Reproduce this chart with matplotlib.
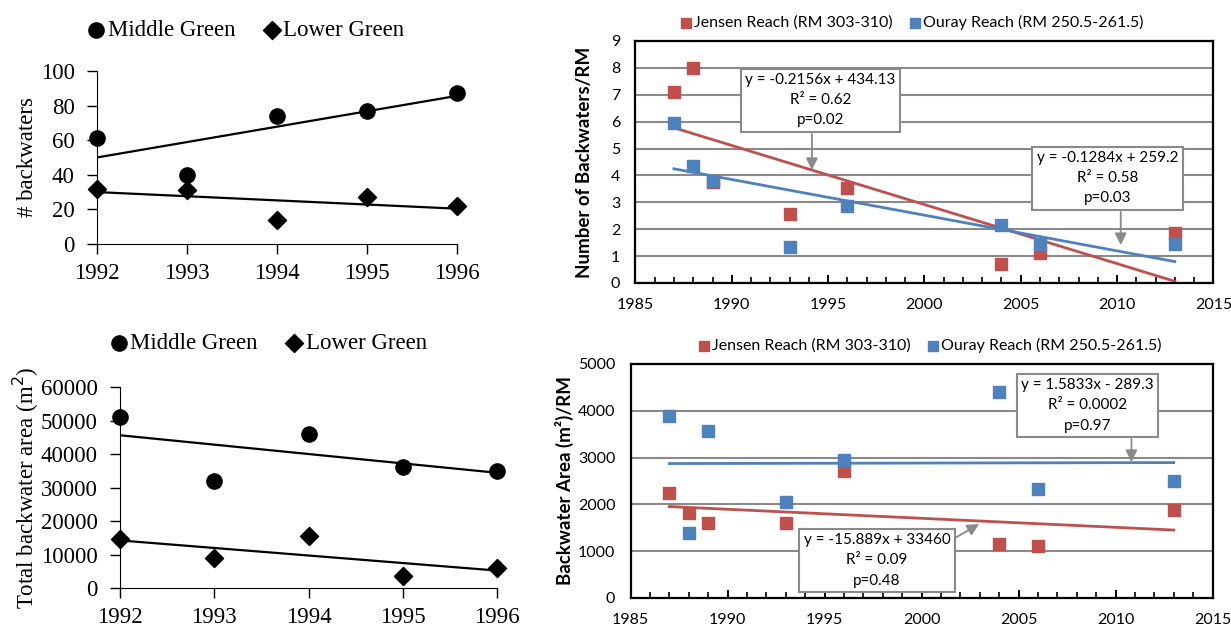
import numpy as np
import matplotlib.pyplot as plt

# left panels: 1992-1996, Middle Green vs Lower Green
years = [1992, 1993, 1994, 1995, 1996]
mid_count = [61, 40, 74, 77, 87]
low_count = [32, 31, 14, 27, 22]
mid_area = [51000, 32000, 46000, 36000, 35000]
low_area = [14500, 9000, 15500, 3500, 6000]

# right panels: Jensen vs Ouray reach
reach_years = [1987, 1988, 1989, 1993, 1996, 2004, 2006, 2013]
jensen_count = [7.1, 8.0, 3.75, 2.55, 3.55, 0.7, 1.1, 1.85]
ouray_count = [5.95, 4.35, 3.8, 1.35, 2.85, 2.15, 1.45, 1.45]
jensen_area = [2240, 1810, 1595, 1595, 2715, 1145, 1105, 1880]
ouray_area = [3895, 1380, 3560, 2050, 2950, 4400, 2320, 2490]

RED = "#C0504D"
BLUE = "#4F81BD"
GREY = "#8a8a8a"
SERIF = "Liberation Serif"
SANS = ["Lato", "DejaVu Sans"]


def trend(x, y):
    k, b = np.polyfit(x, y, 1)
    x = np.array([min(x), max(x)], dtype=float)
    return x, k * x + b


def left_panel(ax, mid, low, ylim, yticks, ylabel, labelpad, leg_x):
    ax.scatter(years, mid, s=120, marker="o", color="black", zorder=3,
               clip_on=False, label="Middle Green")
    ax.scatter(years, low, s=85, marker="D", color="black", zorder=3,
               clip_on=False, label="Lower Green")
    for s in (mid, low):
        ax.plot(*trend(years, s), color="black", lw=1.6)
    ax.set_xlim(1992, 1996)
    ax.set_ylim(*ylim)
    ax.set_xticks(years)
    ax.set_yticks(yticks)
    for side in ("top", "right"):
        ax.spines[side].set_visible(False)
    ax.tick_params(direction="out", length=7, width=1, labelsize=16.5)
    ax.tick_params(axis="x", pad=7)
    ax.tick_params(axis="y", pad=9)
    for t in ax.get_xticklabels() + ax.get_yticklabels():
        t.set_family(SERIF)
    ax.set_ylabel(ylabel, family=SERIF, fontsize=16.5, labelpad=labelpad)
    ax.legend(loc="lower center", bbox_to_anchor=(leg_x, 1.12), ncol=2, frameon=False,
              prop={"family": SERIF, "size": 16.5}, handletextpad=0.0,
              columnspacing=1.1, borderaxespad=0, handlelength=1.0)


def right_panel(ax, jen, our, ylim, ystep, ylabel, label_x, leg_x, boxes):
    ax.set_axisbelow(True)
    ax.yaxis.grid(True, color=GREY, lw=1.5)
    ax.plot(*trend(reach_years, jen), color=RED, lw=2)
    ax.plot(*trend(reach_years, our), color=BLUE, lw=2)
    ax.scatter(reach_years, jen, marker="s", s=65, color=RED, zorder=3,
               label="Jensen Reach (RM 303-310)")
    ax.scatter(reach_years, our, marker="s", s=65, color=BLUE, zorder=3,
               label="Ouray Reach (RM 250.5-261.5)")
    ax.set_xlim(1985, 2015)
    ax.set_ylim(*ylim)
    ax.set_xticks(range(1985, 2016, 5))
    ax.set_xticks(range(1985, 2016), minor=True)
    ax.set_yticks(np.arange(ylim[0], ylim[1] + ystep / 2, ystep))
    for sp in ax.spines.values():
        sp.set_linewidth(1.6)
    ax.tick_params(axis="x", which="major", direction="in", length=6, width=1.4,
                   labelsize=11.5, pad=11)
    ax.tick_params(axis="x", which="minor", direction="in", length=4, width=1.2)
    ax.tick_params(axis="y", length=0, labelsize=11.5, pad=11)
    for t in ax.get_xticklabels() + ax.get_yticklabels():
        t.set_family(SANS)
    ax.set_ylabel(ylabel, family=SANS, fontsize=13.5, fontweight="bold")
    ax.yaxis.set_label_coords(label_x, 0.5)
    ax.legend(loc="lower center", bbox_to_anchor=(leg_x, 1.02), ncol=2, frameon=False,
              prop={"family": SANS, "size": 11.5}, handletextpad=0.1, handlelength=0.8,
              columnspacing=1.0, borderaxespad=0, markerscale=0.9)
    for text, center, start, end in boxes:
        ax.text(*center, text, ha="center", va="center", family=SANS, fontsize=11,
                linespacing=1.55, zorder=5,
                bbox=dict(boxstyle="square,pad=0.3", fc="white", ec=GREY, lw=1.5))
        ax.annotate("", xy=end, xytext=start, zorder=4,
                    arrowprops=dict(arrowstyle="-|>,head_length=0.7,head_width=0.35",
                                    color=GREY, lw=1.3, shrinkA=0, shrinkB=0))


fig = plt.figure(figsize=(12.31, 6.28), dpi=100)

ax1 = fig.add_axes([0.0788, 0.6115, 0.2924, 0.2755])
left_panel(ax1, mid_count, low_count, (0, 100), range(0, 101, 20), "# backwaters", 2, 0.41)

ax3 = fig.add_axes([0.0975, 0.0637, 0.3063, 0.32])
left_panel(ax3, mid_area, low_area, (0, 60000), range(0, 60001, 10000),
           "Total backwater area (m$^2$)", 0, 0.39)

ax2 = fig.add_axes([0.5162, 0.5494, 0.4695, 0.3854])
right_panel(ax2, jensen_count, ouray_count, (0, 9), 1, "Number of Backwaters/RM",
            -0.074, 0.478, [
    ("y = -0.2156x + 434.13\nR² = 0.62\np=0.02", (1994.6, 6.79), (1994.16, 5.54), (1994.16, 4.2)),
    ("y = -0.1284x + 259.2\nR² = 0.58\np=0.03", (2009.5, 3.89), (2010.19, 2.64), (2010.19, 1.41)),
])

ax4 = fig.add_axes([0.5122, 0.0478, 0.4728, 0.3726])
right_panel(ax4, jensen_area, ouray_area, (0, 5000), 1000, "Backwater Area (m²)/RM",
            -0.097, 0.513, [
    ("y = 1.5833x - 289.3\nR² = 0.0002\np=0.97", (2008.56, 4113), (2010.82, 3397), (2010.82, 2906)),
    ("y = -15.889x + 33460\nR² = 0.09\np=0.48", (1997.71, 801), (2001.73, 1282), (2002.97, 1581)),
])

fig.savefig("out.png", dpi=100)
